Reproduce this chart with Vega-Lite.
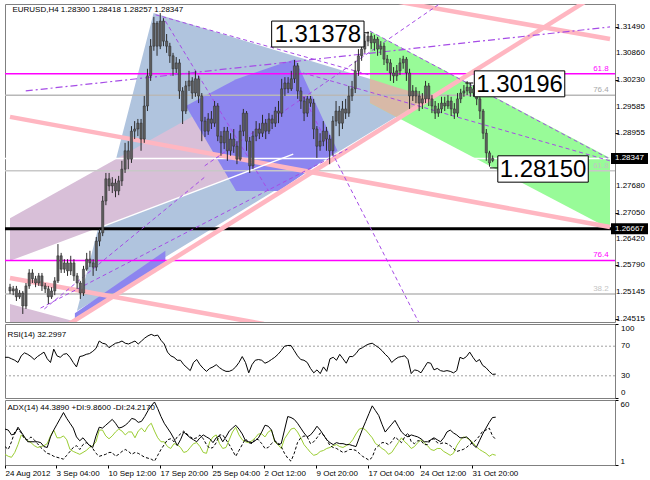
{
"$schema":"https://vega.github.io/schema/vega-lite/v6.json",
"background":"white",
"padding":{"left":2,"top":3,"right":0,"bottom":0},
"spacing":2,
"bounds":"flush",
"config":{"font":"Liberation Sans","view":{"stroke":"#808080","strokeWidth":1},"axis":{"labelOverlap":false,"labelFontSize":8,"labelColor":"#000000","tickColor":"#000000","tickSize":3,"grid":false,"domain":false,"title":null}},
"datasets":{
"k":[
{"i":0,"o":1.2527,"h":1.2535,"l":1.2511,"c":1.2518,"r":55,"a":33.6,"p":10.7,"m":17.7},
{"i":2,"o":1.2518,"h":1.2530,"l":1.2508,"c":1.2523,"r":55,"a":32.7,"p":8.9,"m":15.1},
{"i":4,"o":1.2523,"h":1.2530,"l":1.2494,"c":1.2504,"r":53,"a":28.3,"p":8,"m":22.1},
{"i":6,"o":1.2504,"h":1.2520,"l":1.2499,"c":1.2513,"r":51,"a":29.2,"p":12.4,"m":31},
{"i":8,"o":1.2513,"h":1.2518,"l":1.2463,"c":1.2482,"r":48,"a":35.3,"p":19.5,"m":33.6},
{"i":10,"o":1.2482,"h":1.2537,"l":1.2475,"c":1.2530,"r":57,"a":30.9,"p":28.3,"m":30.1},
{"i":12,"o":1.2530,"h":1.2570,"l":1.2523,"c":1.2561,"r":61,"a":26.5,"p":25.7,"m":24.8},
{"i":14,"o":1.2561,"h":1.2570,"l":1.2537,"c":1.2547,"r":59,"a":22.1,"p":23,"m":23.9},
{"i":16,"o":1.2547,"h":1.2554,"l":1.2527,"c":1.2537,"r":56,"a":22.1,"p":21.3,"m":26.5},
{"i":18,"o":1.2537,"h":1.2561,"l":1.2530,"c":1.2554,"r":52,"a":22.1,"p":18.6,"m":23.9},
{"i":20,"o":1.2554,"h":1.2561,"l":1.2518,"c":1.2530,"r":56,"a":22.1,"p":16.9,"m":20.4},
{"i":22,"o":1.2530,"h":1.2537,"l":1.2513,"c":1.2523,"r":59,"a":21.3,"p":17.7,"m":16.9},
{"i":24,"o":1.2523,"h":1.2530,"l":1.2487,"c":1.2504,"r":62,"a":17.7,"p":18.6,"m":14.2},
{"i":26,"o":1.2504,"h":1.2527,"l":1.2499,"c":1.2518,"r":53,"a":16.9,"p":20.4,"m":11.6},
{"i":28,"o":1.2518,"h":1.2551,"l":1.2508,"c":1.2542,"r":48,"a":26.5,"p":27.4,"m":10.7},
{"i":30,"o":1.2542,"h":1.2630,"l":1.2537,"c":1.2602,"r":66,"a":32.7,"p":32.7,"m":8.9},
{"i":32,"o":1.2602,"h":1.2609,"l":1.2561,"c":1.2570,"r":57,"a":38,"p":25.7,"m":8},
{"i":34,"o":1.2570,"h":1.2594,"l":1.2561,"c":1.2585,"r":55,"a":43.3,"p":25.7,"m":7.2},
{"i":36,"o":1.2585,"h":1.2594,"l":1.2554,"c":1.2566,"r":59,"a":48.6,"p":27.4,"m":6.3},
{"i":38,"o":1.2566,"h":1.2602,"l":1.2556,"c":1.2585,"r":60,"a":43.3,"p":23.9,"m":9.8},
{"i":40,"o":1.2585,"h":1.2594,"l":1.2542,"c":1.2554,"r":55,"a":38.9,"p":15.1,"m":13.3},
{"i":42,"o":1.2554,"h":1.2561,"l":1.2523,"c":1.2537,"r":48,"a":34.5,"p":13.3,"m":16.9},
{"i":44,"o":1.2537,"h":1.2542,"l":1.2499,"c":1.2513,"r":42,"a":26.5,"p":12,"m":18.6},
{"i":46,"o":1.2513,"h":1.2578,"l":1.2506,"c":1.2570,"r":56,"a":23,"p":10.7,"m":15.1},
{"i":48,"o":1.2570,"h":1.2609,"l":1.2566,"c":1.2594,"r":57,"a":25.7,"p":12.4,"m":19.5},
{"i":50,"o":1.2594,"h":1.2614,"l":1.2575,"c":1.2585,"r":59,"a":22.1,"p":14.2,"m":21.3},
{"i":52,"o":1.2585,"h":1.2594,"l":1.2554,"c":1.2575,"r":60,"a":18.6,"p":16.9,"m":19.5},
{"i":54,"o":1.2575,"h":1.2647,"l":1.2566,"c":1.2637,"r":63,"a":16.9,"p":18.6,"m":16},
{"i":56,"o":1.2637,"h":1.2666,"l":1.2625,"c":1.2657,"r":67,"a":27.4,"p":22.1,"m":11.6},
{"i":58,"o":1.2657,"h":1.2745,"l":1.2649,"c":1.2733,"r":77,"a":35.3,"p":32.7,"m":8.9},
{"i":60,"o":1.2733,"h":1.2800,"l":1.2723,"c":1.2786,"r":74,"a":34.5,"p":32.7,"m":9.8},
{"i":62,"o":1.2786,"h":1.2800,"l":1.2757,"c":1.2769,"r":73,"a":37.1,"p":27.4,"m":10.7},
{"i":64,"o":1.2769,"h":1.2790,"l":1.2752,"c":1.2776,"r":68,"a":39.7,"p":24.8,"m":12.4},
{"i":66,"o":1.2776,"h":1.2786,"l":1.2742,"c":1.2757,"r":71,"a":42.4,"p":27.4,"m":12.4},
{"i":68,"o":1.2757,"h":1.2793,"l":1.2747,"c":1.2781,"r":74,"a":38.9,"p":31,"m":8.9},
{"i":70,"o":1.2781,"h":1.2829,"l":1.2769,"c":1.2809,"r":75,"a":34.5,"p":33.6,"m":10.7},
{"i":72,"o":1.2809,"h":1.2872,"l":1.2800,"c":1.2853,"r":77,"a":35.3,"p":31.8,"m":13.3},
{"i":74,"o":1.2853,"h":1.2876,"l":1.2809,"c":1.2833,"r":74,"a":37.1,"p":28.3,"m":15.1},
{"i":76,"o":1.2833,"h":1.2912,"l":1.2824,"c":1.2900,"r":73,"a":39.7,"p":31,"m":13.3},
{"i":78,"o":1.2900,"h":1.2924,"l":1.2881,"c":1.2905,"r":75,"a":43.3,"p":31,"m":10.7},
{"i":80,"o":1.2905,"h":1.2929,"l":1.2888,"c":1.2919,"r":77,"a":42.4,"p":25.7,"m":12.4},
{"i":82,"o":1.2919,"h":1.2929,"l":1.2853,"c":1.2881,"r":73,"a":39.7,"p":31.8,"m":11.6},
{"i":84,"o":1.2881,"h":1.2984,"l":1.2872,"c":1.2960,"r":77,"a":40.6,"p":34.5,"m":9.8},
{"i":86,"o":1.2960,"h":1.3049,"l":1.2948,"c":1.3032,"r":81,"a":45,"p":31,"m":8},
{"i":88,"o":1.3032,"h":1.3120,"l":1.3020,"c":1.3103,"r":84,"a":50.3,"p":36.2,"m":7.2},
{"i":90,"o":1.3103,"h":1.3173,"l":1.3092,"c":1.3158,"r":86,"a":54.7,"p":38.9,"m":6.3},
{"i":92,"o":1.3158,"h":1.3163,"l":1.3080,"c":1.3103,"r":84,"a":58.2,"p":31.8,"m":4.5},
{"i":94,"o":1.3103,"h":1.3182,"l":1.3096,"c":1.3163,"r":85,"a":52.1,"p":25.7,"m":9.8},
{"i":96,"o":1.3163,"h":1.3170,"l":1.3103,"c":1.3115,"r":78,"a":45,"p":22.1,"m":15.1},
{"i":98,"o":1.3115,"h":1.3132,"l":1.3087,"c":1.3103,"r":73,"a":38.9,"p":22.1,"m":19.5},
{"i":100,"o":1.3103,"h":1.3111,"l":1.3063,"c":1.3080,"r":62,"a":34.5,"p":17.7,"m":23.9},
{"i":102,"o":1.3080,"h":1.3087,"l":1.3032,"c":1.3049,"r":57,"a":30.1,"p":16,"m":24.8},
{"i":104,"o":1.3049,"h":1.3077,"l":1.3039,"c":1.3063,"r":55,"a":24.8,"p":20.4,"m":22.1},
{"i":106,"o":1.3063,"h":1.3072,"l":1.2977,"c":1.2996,"r":51,"a":18.6,"p":19.5,"m":26.5},
{"i":108,"o":1.2996,"h":1.3005,"l":1.2917,"c":1.2948,"r":51,"a":23.9,"p":16.9,"m":29.2},
{"i":110,"o":1.2948,"h":1.3020,"l":1.2941,"c":1.3008,"r":45,"a":30.9,"p":12.4,"m":31.8},
{"i":112,"o":1.3008,"h":1.3044,"l":1.2996,"c":1.3020,"r":41,"a":28.3,"p":13.3,"m":29.2},
{"i":114,"o":1.3020,"h":1.3029,"l":1.2977,"c":1.2991,"r":37,"a":25.7,"p":16.9,"m":26.5},
{"i":116,"o":1.2991,"h":1.3044,"l":1.2982,"c":1.3025,"r":48,"a":23.9,"p":20.4,"m":24.8},
{"i":118,"o":1.3025,"h":1.3032,"l":1.2967,"c":1.2984,"r":52,"a":22.1,"p":21.3,"m":25.7},
{"i":120,"o":1.2984,"h":1.2991,"l":1.2876,"c":1.2924,"r":45,"a":25.7,"p":17.7,"m":28.3},
{"i":122,"o":1.2924,"h":1.2934,"l":1.2886,"c":1.2900,"r":40,"a":28.3,"p":12.4,"m":24.8},
{"i":124,"o":1.2900,"h":1.2943,"l":1.2891,"c":1.2929,"r":36,"a":26.5,"p":11.6,"m":19.5},
{"i":126,"o":1.2929,"h":1.2948,"l":1.2905,"c":1.2919,"r":40,"a":24.8,"p":22.1,"m":16},
{"i":128,"o":1.2919,"h":1.2972,"l":1.2910,"c":1.2960,"r":42,"a":21.3,"p":26.5,"m":16.9},
{"i":130,"o":1.2960,"h":1.2967,"l":1.2876,"c":1.2888,"r":45,"a":25.7,"p":28.3,"m":21.3},
{"i":132,"o":1.2888,"h":1.2900,"l":1.2841,"c":1.2872,"r":41,"a":27.4,"p":20.4,"m":28.3},
{"i":134,"o":1.2872,"h":1.2910,"l":1.2857,"c":1.2900,"r":38,"a":22.1,"p":16,"m":28.3},
{"i":136,"o":1.2900,"h":1.2910,"l":1.2829,"c":1.2853,"r":36,"a":26.5,"p":16.9,"m":23.9},
{"i":138,"o":1.2853,"h":1.2895,"l":1.2841,"c":1.2881,"r":36,"a":31.8,"p":23.9,"m":19.5},
{"i":140,"o":1.2881,"h":1.2905,"l":1.2848,"c":1.2864,"r":38,"a":34.5,"p":31,"m":14.2},
{"i":142,"o":1.2864,"h":1.2876,"l":1.2821,"c":1.2833,"r":42,"a":37.1,"p":35.3,"m":8.9},
{"i":144,"o":1.2833,"h":1.2915,"l":1.2829,"c":1.2900,"r":48,"a":33.6,"p":28.3,"m":14.2},
{"i":146,"o":1.2900,"h":1.2953,"l":1.2888,"c":1.2943,"r":56,"a":29.2,"p":23.9,"m":19.5},
{"i":148,"o":1.2943,"h":1.2948,"l":1.2853,"c":1.2876,"r":48,"a":23,"p":22.1,"m":24.8},
{"i":150,"o":1.2876,"h":1.2886,"l":1.2800,"c":1.2817,"r":34,"a":22.1,"p":21.3,"m":21.3},
{"i":152,"o":1.2817,"h":1.2900,"l":1.2809,"c":1.2888,"r":45,"a":21.3,"p":23,"m":20.4},
{"i":154,"o":1.2888,"h":1.2924,"l":1.2876,"c":1.2905,"r":51,"a":23,"p":25.7,"m":24.8},
{"i":156,"o":1.2905,"h":1.2919,"l":1.2881,"c":1.2895,"r":52,"a":25.7,"p":29.2,"m":23.9},
{"i":158,"o":1.2895,"h":1.2939,"l":1.2886,"c":1.2919,"r":51,"a":31,"p":29.2,"m":20.4},
{"i":160,"o":1.2919,"h":1.2929,"l":1.2881,"c":1.2900,"r":47,"a":37.1,"p":26.5,"m":16},
{"i":162,"o":1.2900,"h":1.2943,"l":1.2893,"c":1.2929,"r":49,"a":36.2,"p":31,"m":16.9},
{"i":164,"o":1.2929,"h":1.2939,"l":1.2905,"c":1.2919,"r":52,"a":32.7,"p":32.7,"m":20.4},
{"i":166,"o":1.2919,"h":1.2958,"l":1.2910,"c":1.2948,"r":55,"a":23,"p":22.1,"m":23},
{"i":168,"o":1.2948,"h":1.2972,"l":1.2919,"c":1.2943,"r":59,"a":19.5,"p":19.5,"m":21.3},
{"i":170,"o":1.2943,"h":1.3025,"l":1.2934,"c":1.3001,"r":64,"a":20.4,"p":16,"m":17.7},
{"i":172,"o":1.3001,"h":1.3029,"l":1.2984,"c":1.3015,"r":70,"a":32.7,"p":24.8,"m":11.6},
{"i":174,"o":1.3015,"h":1.3029,"l":1.2991,"c":1.3001,"r":71,"a":45,"p":29.2,"m":7.2},
{"i":176,"o":1.3001,"h":1.3044,"l":1.2996,"c":1.3025,"r":71,"a":44.1,"p":33.6,"m":4.5},
{"i":178,"o":1.3025,"h":1.3070,"l":1.3015,"c":1.3056,"r":64,"a":42.4,"p":34.5,"m":11.6},
{"i":180,"o":1.3056,"h":1.3063,"l":1.2977,"c":1.2996,"r":57,"a":38.9,"p":31,"m":21.3},
{"i":182,"o":1.2996,"h":1.3005,"l":1.2953,"c":1.2972,"r":52,"a":34.5,"p":25.7,"m":25.7},
{"i":184,"o":1.2972,"h":1.2982,"l":1.2924,"c":1.2943,"r":51,"a":30.1,"p":19.5,"m":27.4},
{"i":186,"o":1.2943,"h":1.2984,"l":1.2934,"c":1.2977,"r":48,"a":26.5,"p":16,"m":26.5},
{"i":188,"o":1.2977,"h":1.2984,"l":1.2958,"c":1.2967,"r":40,"a":28.3,"p":12.4,"m":20.4},
{"i":190,"o":1.2967,"h":1.2977,"l":1.2881,"c":1.2905,"r":34,"a":31.8,"p":9.8,"m":22.1},
{"i":192,"o":1.2905,"h":1.2912,"l":1.2836,"c":1.2864,"r":38,"a":36.2,"p":10.7,"m":25.7},
{"i":194,"o":1.2864,"h":1.2895,"l":1.2853,"c":1.2876,"r":33,"a":32.7,"p":13.3,"m":30.1},
{"i":196,"o":1.2876,"h":1.2924,"l":1.2864,"c":1.2900,"r":42,"a":28.3,"p":14.2,"m":28.3},
{"i":198,"o":1.2900,"h":1.2910,"l":1.2853,"c":1.2881,"r":36,"a":23.9,"p":16,"m":23.9},
{"i":200,"o":1.2881,"h":1.2891,"l":1.2821,"c":1.2853,"r":53,"a":21.3,"p":16.9,"m":18.6},
{"i":202,"o":1.2853,"h":1.2936,"l":1.2841,"c":1.2924,"r":55,"a":19.5,"p":18.6,"m":16.9},
{"i":204,"o":1.2924,"h":1.2972,"l":1.2912,"c":1.2948,"r":51,"a":21.3,"p":19.5,"m":16},
{"i":206,"o":1.2948,"h":1.2960,"l":1.2888,"c":1.2919,"r":59,"a":20.4,"p":17.7,"m":14.2},
{"i":208,"o":1.2919,"h":1.2972,"l":1.2905,"c":1.2953,"r":53,"a":20.4,"p":16.9,"m":12.4},
{"i":210,"o":1.2953,"h":1.2977,"l":1.2929,"c":1.2943,"r":47,"a":19.5,"p":18.6,"m":13.3},
{"i":212,"o":1.2943,"h":1.3008,"l":1.2934,"c":1.2984,"r":56,"a":19.5,"p":20.4,"m":15.1},
{"i":214,"o":1.2984,"h":1.3020,"l":1.2972,"c":1.3001,"r":56,"a":18.6,"p":23.9,"m":15.1},
{"i":216,"o":1.3001,"h":1.3068,"l":1.2991,"c":1.3044,"r":60,"a":17.7,"p":29.2,"m":14.2},
{"i":218,"o":1.3044,"h":1.3096,"l":1.3032,"c":1.3080,"r":66,"a":25.7,"p":33.6,"m":11.6},
{"i":220,"o":1.3080,"h":1.3115,"l":1.3068,"c":1.3096,"r":68,"a":33.6,"p":34.5,"m":8.9},
{"i":222,"o":1.3096,"h":1.3132,"l":1.3087,"c":1.3115,"r":71,"a":40.6,"p":32.7,"m":7.2},
{"i":224,"o":1.3115,"h":1.3138,"l":1.3103,"c":1.3127,"r":73,"a":47.7,"p":29.2,"m":5.4},
{"i":226,"o":1.3127,"h":1.3135,"l":1.3096,"c":1.3111,"r":74,"a":54.7,"p":25.7,"m":8},
{"i":228,"o":1.3111,"h":1.3130,"l":1.3092,"c":1.3120,"r":71,"a":50.3,"p":20.4,"m":16},
{"i":230,"o":1.3120,"h":1.3125,"l":1.3080,"c":1.3096,"r":68,"a":45.9,"p":18.6,"m":18.6},
{"i":232,"o":1.3096,"h":1.3115,"l":1.3082,"c":1.3103,"r":64,"a":38,"p":16,"m":21.3},
{"i":234,"o":1.3103,"h":1.3111,"l":1.3058,"c":1.3072,"r":59,"a":30.9,"p":14.2,"m":21.3},
{"i":236,"o":1.3072,"h":1.3082,"l":1.3044,"c":1.3063,"r":55,"a":34.5,"p":10.7,"m":19.5},
{"i":238,"o":1.3063,"h":1.3072,"l":1.3020,"c":1.3039,"r":48,"a":38,"p":12.4,"m":22.1},
{"i":240,"o":1.3039,"h":1.3053,"l":1.3015,"c":1.3032,"r":52,"a":41.5,"p":16.9,"m":26.5},
{"i":242,"o":1.3032,"h":1.3058,"l":1.3020,"c":1.3044,"r":55,"a":36.2,"p":21.3,"m":23.9},
{"i":244,"o":1.3044,"h":1.3075,"l":1.3034,"c":1.3063,"r":56,"a":31,"p":25.7,"m":21.3},
{"i":246,"o":1.3063,"h":1.3080,"l":1.3049,"c":1.3072,"r":57,"a":28.3,"p":22.1,"m":26.5},
{"i":248,"o":1.3072,"h":1.3077,"l":1.3020,"c":1.3039,"r":52,"a":26.5,"p":19.5,"m":30.1},
{"i":250,"o":1.3039,"h":1.3049,"l":1.2953,"c":1.2984,"r":33,"a":28.3,"p":16,"m":22.1},
{"i":252,"o":1.2984,"h":1.3010,"l":1.2972,"c":1.2996,"r":38,"a":27.4,"p":17.7,"m":20.4},
{"i":254,"o":1.2996,"h":1.3005,"l":1.2967,"c":1.2984,"r":37,"a":26.5,"p":21.3,"m":23},
{"i":256,"o":1.2984,"h":1.2996,"l":1.2948,"c":1.2967,"r":34,"a":24.8,"p":23.9,"m":23},
{"i":258,"o":1.2967,"h":1.2991,"l":1.2953,"c":1.2977,"r":41,"a":22.1,"p":21.3,"m":19.5},
{"i":260,"o":1.2977,"h":1.3020,"l":1.2967,"c":1.3008,"r":48,"a":22.1,"p":18.6,"m":19.5},
{"i":262,"o":1.3008,"h":1.3015,"l":1.2960,"c":1.2977,"r":47,"a":23.9,"p":15.1,"m":23.9},
{"i":264,"o":1.2977,"h":1.2986,"l":1.2943,"c":1.2960,"r":38,"a":25.7,"p":14.2,"m":24.8},
{"i":266,"o":1.2960,"h":1.2972,"l":1.2929,"c":1.2943,"r":40,"a":23.9,"p":16,"m":21.3},
{"i":268,"o":1.2943,"h":1.2967,"l":1.2934,"c":1.2953,"r":37,"a":22.1,"p":16,"m":20.4},
{"i":270,"o":1.2953,"h":1.2982,"l":1.2943,"c":1.2967,"r":36,"a":25.7,"p":13.3,"m":21.3},
{"i":272,"o":1.2967,"h":1.2982,"l":1.2948,"c":1.2960,"r":37,"a":31,"p":11.6,"m":20.4},
{"i":274,"o":1.2960,"h":1.2986,"l":1.2953,"c":1.2972,"r":36,"a":32.7,"p":9.8,"m":18.6},
{"i":276,"o":1.2972,"h":1.2982,"l":1.2936,"c":1.2953,"r":34,"a":30.1,"p":11.6,"m":16},
{"i":278,"o":1.2953,"h":1.2967,"l":1.2929,"c":1.2943,"r":37,"a":28.3,"p":18.6,"m":13.3},
{"i":280,"o":1.2943,"h":1.2991,"l":1.2934,"c":1.2977,"r":55,"a":25.7,"p":23,"m":14.2},
{"i":282,"o":1.2977,"h":1.3001,"l":1.2967,"c":1.2991,"r":53,"a":25.7,"p":26.5,"m":15.1},
{"i":284,"o":1.2991,"h":1.3010,"l":1.2982,"c":1.2996,"r":56,"a":26.5,"p":25.7,"m":16.9},
{"i":286,"o":1.2996,"h":1.30196,"l":1.2986,"c":1.3005,"r":62,"a":23.9,"p":23.9,"m":19.5},
{"i":288,"o":1.3005,"h":1.3015,"l":1.2982,"c":1.2991,"r":55,"a":19.5,"p":21.3,"m":21.3},
{"i":290,"o":1.2991,"h":1.3010,"l":1.2982,"c":1.3001,"r":49,"a":16.9,"p":17.7,"m":23.9},
{"i":292,"o":1.3001,"h":1.3008,"l":1.2962,"c":1.2977,"r":52,"a":23,"p":15.1,"m":27.4},
{"i":294,"o":1.2977,"h":1.2984,"l":1.2929,"c":1.2948,"r":44,"a":29.2,"p":13.3,"m":31.8},
{"i":296,"o":1.2948,"h":1.2953,"l":1.2881,"c":1.2895,"r":41,"a":34.5,"p":11.6,"m":32.7},
{"i":298,"o":1.2895,"h":1.2905,"l":1.2829,"c":1.2848,"r":36,"a":39.7,"p":8.9,"m":34.5},
{"i":300,"o":1.2848,"h":1.2853,"l":1.2815,"c":1.2824,"r":32,"a":44.1,"p":10.7,"m":27.4},
{"i":302,"o":1.2830,"h":1.28418,"l":1.28257,"c":1.28347,"r":32.3,"a":44.389,"p":9.86,"m":24.217}
],
"shp":[
{"s":"lb","i":41.85,"y1":1.2470,"y2":1.2470},{"s":"lb","i":89.85,"y1":1.3182,"y2":1.2582},{"s":"lb","i":262.15,"y1":1.2982,"y2":1.2982},
{"s":"mv","i":0,"y1":1.2692,"y2":1.2590},{"s":"mv","i":178.5,"y1":1.3072,"y2":1.2845},
{"s":"mv0","i":0,"y1":1.2487,"y2":1.2444},{"s":"mv0","i":41.8,"y1":1.2444,"y2":1.2444},
{"s":"pu","i":110,"y1":1.2960,"y2":1.2960},{"s":"pu","i":141.5,"y1":1.3024,"y2":1.2757},{"s":"pu","i":168,"y1":1.3059,"y2":1.2757},{"s":"pu","i":178.5,"y1":1.3072,"y2":1.2784},{"s":"pu","i":204.9,"y1":1.2853,"y2":1.2853},
{"s":"ps","i":40.6,"y1":1.2465,"y2":1.2451},{"s":"ps","i":97.2,"y1":1.2614,"y2":1.2580},
{"s":"gr","i":225.2,"y1":1.3139,"y2":1.2967},{"s":"gr","i":375.4,"y1":1.2836,"y2":1.2666},
{"s":"tn","i":225.2,"y1":1.3025,"y2":1.2967},{"s":"tn","i":241.7,"y1":1.3005,"y2":1.2934},{"s":"tn","i":262.15,"y1":1.2982,"y2":1.2982}
],
"lv":[{"v":1.3037,"g":"mag"},{"v":1.2591,"g":"mag"},{"v":1.2986,"g":"gry"},{"v":1.2511,"g":"gry"},{"v":1.2805,"g":"lgr"},{"v":1.28347,"g":"wht"},{"v":1.26667,"g":"blk"}],
"fib":[{"i":374.6,"v":1.3037,"t":"61.8","g":"mag"},{"i":374.6,"v":1.2986,"t":"76.4","g":"gry"},{"i":374.6,"v":1.2805,"t":"61.8","g":"lgr"},{"i":374.6,"v":1.2591,"t":"76.4","g":"mag"},{"i":374.6,"v":1.2511,"t":"38.2","g":"lgr"}],
"ln":[
{"s":"L1","g":"pnk","i":35.7,"v":1.2436},{"s":"L1","g":"pnk","i":361.8,"v":1.3214},
{"s":"L2","g":"pnk","i":243.1,"v":1.3209},{"s":"L2","g":"pnk","i":375.4,"v":1.3120},
{"s":"L3","g":"pnk","i":0,"v":1.2934},{"s":"L3","g":"pnk","i":375.4,"v":1.2671},
{"s":"L4","g":"pnk","i":0,"v":1.2549},{"s":"L4","g":"pnk","i":158.8,"v":1.2439},
{"s":"D2","g":"dsh","i":91.1,"v":1.3178},{"s":"D2","g":"dsh","i":225.2,"v":1.3034},
{"s":"D3","g":"dsh","i":225.2,"v":1.3139},{"s":"D3","g":"dsh","i":375.4,"v":1.2833},
{"s":"D4","g":"dsh","i":19.1,"v":1.2477},{"s":"D4","g":"dsh","i":211.1,"v":1.2857},
{"s":"D5","g":"dsh","i":183.4,"v":1.3039},{"s":"D5","g":"dsh","i":375.4,"v":1.2829},
{"s":"D6","g":"dsh","i":121.8,"v":1.2817},{"s":"D6","g":"dsh","i":271.4,"v":1.3211},
{"s":"D7","g":"dsh","i":97.2,"v":1.3163},{"s":"D7","g":"dsh","i":161.8,"v":1.2757},
{"s":"D8","g":"dsh","i":183.4,"v":1.2984},{"s":"D8","g":"dsh","i":256,"v":1.2441},
{"s":"D11","g":"dsh","i":21.5,"v":1.2475},{"s":"D11","g":"dsh","i":121.8,"v":1.2790},
{"s":"D1","g":"dd","i":9.85,"v":1.2996},{"s":"D1","g":"dd","i":375.4,"v":1.3149},
{"s":"W1","g":"wht","i":58.5,"v":1.2673},{"s":"W1","g":"wht","i":177.2,"v":1.2845},
{"s":"C1","g":"con","i":220.3,"v":1.3135},{"s":"C1","g":"con","i":224.6,"v":1.3135},
{"s":"C2","g":"con","i":284.9,"v":1.3015},{"s":"C2","g":"con","i":289.8,"v":1.3015},
{"s":"C3","g":"con","i":300.3,"v":1.2812},{"s":"C3","g":"con","i":305.2,"v":1.2812}
],
"box":[{"x1":163.7,"x2":221.5,"y1":1.3163,"y2":1.3101},{"x1":290.5,"x2":347.1,"y1":1.3044,"y2":1.2982},{"x1":305.2,"x2":361.8,"y1":1.2841,"y2":1.2778}],
"btx":[{"i":192.6,"v":1.3132,"t":"1.31378"},{"i":318.8,"v":1.3013,"t":"1.30196"},{"i":333.5,"v":1.2809,"t":"1.28150"}],
"hl":[{"i":375.4,"v":1.28347,"t":"1.28347"},{"i":375.4,"v":1.26667,"t":"1.26667"}],
"ylab":[{"i":375.4,"v":1.3149,"t":"1.31490"},{"i":375.4,"v":1.3086,"t":"1.30860"},{"i":375.4,"v":1.3023,"t":"1.30230"},{"i":375.4,"v":1.29585,"t":"1.29585"},{"i":375.4,"v":1.28955,"t":"1.28955"},{"i":375.4,"v":1.2768,"t":"1.27680"},{"i":375.4,"v":1.2705,"t":"1.27050"},{"i":375.4,"v":1.2642,"t":"1.26420"},{"i":375.4,"v":1.2579,"t":"1.25790"},{"i":375.4,"v":1.25145,"t":"1.25145"},{"i":375.4,"v":1.24515,"t":"1.24515"}],
"rlab":[{"i":375.4,"v":100,"t":"100","b":"top"},{"i":375.4,"v":70,"t":"70","b":"mid"},{"i":375.4,"v":30,"t":"30","b":"mid"},{"i":375.4,"v":0,"t":"0","b":"bot"}],
"ttl":[{"i":1.5,"v":1.3201,"t":"EURUSD,H4  1.28300 1.28418 1.28257 1.28347"}],
"rttl":[{"i":1.5,"v":92,"t":"RSI(14) 32.2997"}],
"attl":[{"i":1.5,"v":57,"t":"ADX(14) 44.3890 +DI:9.8600 -DI:24.2170"}]
},
"vconcat":[
{"width":610,"height":318,
"layer":[
{"data":{"name":"shp"},"transform":[{"filter":"datum.s==='lb'"}],"mark":{"type":"area","orient":"vertical","color":"#B0C4DE","opacity":1,"clip":true},
"encoding":{"x":{"field":"i","type":"quantitative","scale":{"domain":[0,375.4],"nice":false,"zero":false},"axis":null},
"y":{"field":"y1","type":"quantitative","scale":{"domain":[1.24438,1.32038],"nice":false,"zero":false},
"axis":{"orient":"right","title":null,"values":[1.3149,1.3086,1.3023,1.29585,1.28955,1.2768,1.2705,1.2642,1.2579,1.25145,1.24515],"labels":false,"ticks":true,"tickSize":3}},
"y2":{"field":"y2"}}},
{"data":{"name":"shp"},"transform":[{"filter":"datum.s==='mv'"}],"mark":{"type":"area","orient":"vertical","color":"#D8BFD8","opacity":1,"clip":true},"encoding":{"x":{"field":"i","type":"quantitative"},"y":{"field":"y1","type":"quantitative"},"y2":{"field":"y2"}}},
{"data":{"name":"shp"},"transform":[{"filter":"datum.s==='mv0'"}],"mark":{"type":"area","orient":"vertical","color":"#D8BFD8","opacity":1,"clip":true},"encoding":{"x":{"field":"i","type":"quantitative"},"y":{"field":"y1","type":"quantitative"},"y2":{"field":"y2"}}},
{"data":{"name":"shp"},"transform":[{"filter":"datum.s==='pu'"}],"mark":{"type":"area","orient":"vertical","color":"#8C85EF","opacity":1,"clip":true},"encoding":{"x":{"field":"i","type":"quantitative"},"y":{"field":"y1","type":"quantitative"},"y2":{"field":"y2"}}},
{"data":{"name":"shp"},"transform":[{"filter":"datum.s==='ps'"}],"mark":{"type":"area","orient":"vertical","color":"#8C85EF","opacity":1,"clip":true},"encoding":{"x":{"field":"i","type":"quantitative"},"y":{"field":"y1","type":"quantitative"},"y2":{"field":"y2"}}},
{"data":{"name":"shp"},"transform":[{"filter":"datum.s==='gr'"}],"mark":{"type":"area","orient":"vertical","color":"#98FB98","opacity":1,"clip":true},"encoding":{"x":{"field":"i","type":"quantitative"},"y":{"field":"y1","type":"quantitative"},"y2":{"field":"y2"}}},
{"data":{"name":"shp"},"transform":[{"filter":"datum.s==='tn'"}],"mark":{"type":"area","orient":"vertical","color":"#D8B9A7","opacity":1,"clip":true},"encoding":{"x":{"field":"i","type":"quantitative"},"y":{"field":"y1","type":"quantitative"},"y2":{"field":"y2"}}},
{"data":{"name":"lv"},"transform":[{"filter":"datum.g==='gry'"}],"mark":{"type":"rule","color":"#B8B8B8","strokeWidth":1.5},"encoding":{"y":{"field":"v","type":"quantitative"}}},
{"data":{"name":"lv"},"transform":[{"filter":"datum.g==='lgr'"}],"mark":{"type":"rule","color":"#C8C8C8","strokeWidth":1.5},"encoding":{"y":{"field":"v","type":"quantitative"}}},
{"data":{"name":"lv"},"transform":[{"filter":"datum.g==='wht'"}],"mark":{"type":"rule","color":"#FFFFFF","strokeWidth":1.5},"encoding":{"y":{"field":"v","type":"quantitative"}}},
{"data":{"name":"lv"},"transform":[{"filter":"datum.g==='mag'"}],"mark":{"type":"rule","color":"#FF00FF","strokeWidth":1.5},"encoding":{"y":{"field":"v","type":"quantitative"}}},
{"data":{"name":"lv"},"transform":[{"filter":"datum.g==='blk'"}],"mark":{"type":"rule","color":"#000000","strokeWidth":3},"encoding":{"y":{"field":"v","type":"quantitative"}}},
{"data":{"name":"ln"},"transform":[{"filter":"datum.g==='pnk'"}],"mark":{"type":"line","color":"#FFB6C1","strokeWidth":4.5,"clip":true},"encoding":{"x":{"field":"i","type":"quantitative"},"y":{"field":"v","type":"quantitative"},"detail":{"field":"s"}}},
{"data":{"name":"ln"},"transform":[{"filter":"datum.g==='wht'"}],"mark":{"type":"line","color":"#FFFFFF","strokeWidth":1.5,"clip":true},"encoding":{"x":{"field":"i","type":"quantitative"},"y":{"field":"v","type":"quantitative"},"detail":{"field":"s"}}},
{"data":{"name":"ln"},"transform":[{"filter":"datum.g==='dsh'"}],"mark":{"type":"line","color":"#A64CE6","strokeWidth":1,"strokeDash":[4,3],"clip":true},"encoding":{"x":{"field":"i","type":"quantitative"},"y":{"field":"v","type":"quantitative"},"detail":{"field":"s"}}},
{"data":{"name":"ln"},"transform":[{"filter":"datum.g==='dd'"}],"mark":{"type":"line","color":"#A64CE6","strokeWidth":1.2,"strokeDash":[7,3,2,3],"clip":true},"encoding":{"x":{"field":"i","type":"quantitative"},"y":{"field":"v","type":"quantitative"},"detail":{"field":"s"}}},
{"data":{"name":"k"},"mark":{"type":"rule","color":"#2A2A2A","strokeWidth":1,"clip":true},"encoding":{"x":{"field":"i","type":"quantitative"},"y":{"field":"l","type":"quantitative"},"y2":{"field":"h"}}},
{"data":{"name":"k"},"mark":{"type":"bar","width":2.2,"color":"#5E5E5E","stroke":"#2A2A2A","strokeWidth":0.5,"clip":true},"encoding":{"x":{"field":"i","type":"quantitative"},"y":{"field":"o","type":"quantitative"},"y2":{"field":"c"}}},
{"data":{"name":"ln"},"transform":[{"filter":"datum.g==='con'"}],"mark":{"type":"line","color":"#000000","strokeWidth":1},"encoding":{"x":{"field":"i","type":"quantitative"},"y":{"field":"v","type":"quantitative"},"detail":{"field":"s"}}},
{"data":{"name":"box"},"mark":{"type":"rect","fill":"#FFFFFF","stroke":"#000000","strokeWidth":1},"encoding":{"x":{"field":"x1","type":"quantitative"},"x2":{"field":"x2"},"y":{"field":"y1","type":"quantitative"},"y2":{"field":"y2"}}},
{"data":{"name":"btx"},"mark":{"type":"text","font":"Liberation Sans","fontSize":24,"color":"#000000","align":"center","baseline":"middle","dy":1},"encoding":{"x":{"field":"i","type":"quantitative"},"y":{"field":"v","type":"quantitative"},"text":{"field":"t"}}},
{"data":{"name":"fib"},"transform":[{"filter":"datum.g==='mag'"}],"mark":{"type":"text","fontSize":8,"color":"#FF00FF","align":"right","baseline":"bottom","dy":-1},"encoding":{"x":{"field":"i","type":"quantitative"},"y":{"field":"v","type":"quantitative"},"text":{"field":"t"}}},
{"data":{"name":"fib"},"transform":[{"filter":"datum.g==='gry'"}],"mark":{"type":"text","fontSize":8,"color":"#A8A8A8","align":"right","baseline":"bottom","dy":-1},"encoding":{"x":{"field":"i","type":"quantitative"},"y":{"field":"v","type":"quantitative"},"text":{"field":"t"}}},
{"data":{"name":"fib"},"transform":[{"filter":"datum.g==='lgr'"}],"mark":{"type":"text","fontSize":8,"color":"#C4C4C4","align":"right","baseline":"bottom","dy":-1},"encoding":{"x":{"field":"i","type":"quantitative"},"y":{"field":"v","type":"quantitative"},"text":{"field":"t"}}},
{"data":{"name":"ylab"},"mark":{"type":"text","fontSize":8,"color":"#000000","align":"left","baseline":"middle","dx":6,"clip":false},"encoding":{"x":{"field":"i","type":"quantitative"},"y":{"field":"v","type":"quantitative"},"text":{"field":"t"}}},
{"data":{"name":"hl"},"mark":{"type":"rect","color":"#000000","clip":false,"xOffset":1,"x2Offset":38,"yOffset":-5.5,"y2Offset":5.5},"encoding":{"x":{"field":"i","type":"quantitative"},"x2":{"field":"i"},"y":{"field":"v","type":"quantitative"},"y2":{"field":"v"}}},
{"data":{"name":"hl"},"mark":{"type":"text","color":"#FFFFFF","fontSize":8,"align":"left","baseline":"middle","dx":5,"clip":false},"encoding":{"x":{"field":"i","type":"quantitative"},"y":{"field":"v","type":"quantitative"},"text":{"field":"t"}}},
{"data":{"name":"ttl"},"mark":{"type":"text","fontSize":8,"color":"#000000","align":"left","baseline":"top","dy":1},"encoding":{"x":{"field":"i","type":"quantitative"},"y":{"field":"v","type":"quantitative"},"text":{"field":"t"}}}
]},
{"width":610,"height":74,
"layer":[
{"data":{"values":[{"v":30},{"v":70}]},"mark":{"type":"rule","color":"#A0A0A0","strokeDash":[2,2],"strokeWidth":1},
"encoding":{"y":{"field":"v","type":"quantitative","scale":{"domain":[0,100],"nice":false,"zero":false},"axis":{"orient":"right","title":null,"values":[0,30,70,100],"labels":false,"ticks":true,"tickSize":3}}}},
{"data":{"name":"k"},"mark":{"type":"line","color":"#000000","strokeWidth":1},"encoding":{"x":{"field":"i","type":"quantitative","scale":{"domain":[0,375.4],"nice":false,"zero":false},"axis":null},"y":{"field":"r","type":"quantitative"}}},
{"data":{"name":"rlab"},"transform":[{"filter":"datum.b==='top'"}],"mark":{"type":"text","fontSize":8,"color":"#000000","align":"left","baseline":"top","dx":6,"dy":1,"clip":false},"encoding":{"x":{"field":"i","type":"quantitative"},"y":{"field":"v","type":"quantitative"},"text":{"field":"t"}}},
{"data":{"name":"rlab"},"transform":[{"filter":"datum.b==='mid'"}],"mark":{"type":"text","fontSize":8,"color":"#000000","align":"left","baseline":"middle","dx":6,"clip":false},"encoding":{"x":{"field":"i","type":"quantitative"},"y":{"field":"v","type":"quantitative"},"text":{"field":"t"}}},
{"data":{"name":"rlab"},"transform":[{"filter":"datum.b==='bot'"}],"mark":{"type":"text","fontSize":8,"color":"#000000","align":"left","baseline":"bottom","dx":6,"dy":-1,"clip":false},"encoding":{"x":{"field":"i","type":"quantitative"},"y":{"field":"v","type":"quantitative"},"text":{"field":"t"}}},
{"data":{"name":"rttl"},"mark":{"type":"text","fontSize":8,"color":"#000000","align":"left","baseline":"top","dy":1},"encoding":{"x":{"field":"i","type":"quantitative"},"y":{"field":"v","type":"quantitative"},"text":{"field":"t"}}}
]},
{"width":610,"height":65,
"layer":[
{"data":{"name":"k"},"mark":{"type":"line","color":"#9ACD32","strokeWidth":1},
"encoding":{"x":{"field":"i","type":"quantitative","scale":{"domain":[0,375.4],"nice":false,"zero":false},
"axis":{"orient":"bottom","title":null,"values":[0,31.4,63.4,95.4,127.4,159.4,191.4,223.4,255.4,287.4],"labelExpr":"['24 Aug 2012','3 Sep 04:00','10 Sep 12:00','17 Sep 20:00','25 Sep 04:00','2 Oct 12:00','9 Oct 20:00','17 Oct 04:00','24 Oct 12:00','31 Oct 20:00'][round((datum.value+0.6)/32)]","labelAlign":"left","labelFlush":false,"labelOverlap":false,"labelPadding":1}},
"y":{"field":"p","type":"quantitative","scale":{"domain":[1,60],"nice":false,"zero":false},"axis":{"orient":"right","title":null,"values":[1,60],"labelFlush":true,"labelOverlap":false,"labelPadding":2}}}},
{"data":{"name":"k"},"mark":{"type":"line","color":"#000000","strokeWidth":1,"strokeDash":[3,2]},"encoding":{"x":{"field":"i","type":"quantitative"},"y":{"field":"m","type":"quantitative"}}},
{"data":{"name":"k"},"mark":{"type":"line","color":"#000000","strokeWidth":1},"encoding":{"x":{"field":"i","type":"quantitative"},"y":{"field":"a","type":"quantitative"}}},
{"data":{"name":"attl"},"mark":{"type":"text","fontSize":8,"color":"#000000","align":"left","baseline":"top","dy":1},"encoding":{"x":{"field":"i","type":"quantitative"},"y":{"field":"v","type":"quantitative"},"text":{"field":"t"}}}
]}
]
}
